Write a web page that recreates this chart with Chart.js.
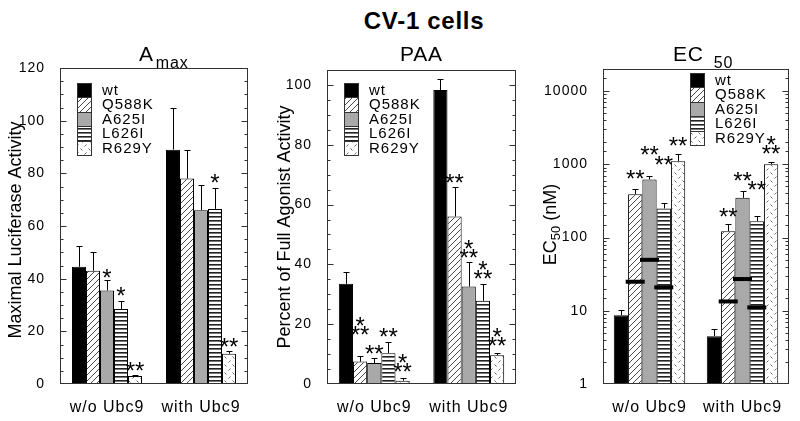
<!DOCTYPE html>
<html>
<head>
<meta charset="utf-8">
<script src="https://cdn.jsdelivr.net/npm/chart.js@4.4.0/dist/chart.umd.min.js"></script>
<style>
html,body{margin:0;padding:0;background:#fff;}
#wrap{position:relative;width:800px;height:421px;overflow:hidden;background:#fff;}
#title{position:absolute;left:324px;width:200px;top:7px;line-height:24px;text-align:center;font:bold 24px "Liberation Sans",Arial,sans-serif;letter-spacing:0.7px;color:#000;}
.pane{position:absolute;top:0;height:421px;}
canvas{display:block;}
</style>
</head>
<body>
<div id="wrap">
  <div id="title">CV-1 cells</div>
  <div class="pane" style="left:0;width:270px"><canvas id="c1" width="270" height="421"></canvas></div>
  <div class="pane" style="left:270px;width:260px"><canvas id="c2" width="260" height="421"></canvas></div>
  <div class="pane" style="left:530px;width:270px"><canvas id="c3" width="270" height="421"></canvas></div>
</div>
<script>
// ---------------- data ----------------
const categories = ['w/o Ubc9', 'with Ubc9'];
const seriesNames = ['wt', 'Q588K', 'A625I', 'L626I', 'R629Y'];

// A_max (Maximal Luciferase Activity): one [w/o, with] pair per series
const amaxMean   = [[44.5, 89], [43, 78], [35.5, 66], [28.5, 66.5], [3, 11.5]];
const amaxErrTop = [[52.5, 105], [50, 89], [39.5, 75.5], [31.5, 74.5], [3.6, 12.6]];
const amaxStars  = [['', ''], ['', ''], ['*', ''], ['*', '*'], ['**', '**']];
const amaxStarAt = [[0, 0], [0, 0], [42.5, 0], [35.7, 78.5], [7.2, 16.1]];
const amaxTicks  = [0, 20, 40, 60, 80, 100, 120];

// PAA (Percent of Full Agonist Activity)
const paaMean   = [[33.5, 98.3], [7.5, 56], [7, 32.6], [10.3, 27.8], [1.1, 9.6]];
const paaErrTop = [[37.4, 102], [9.5, 66], [8.8, 40.7], [14.2, 33.5], [2.1, 10.3]];
const paaStars  = [['', ''], ['*\n**', '**'], ['**', '*\n**'], ['**', '*\n**'], ['*\n**', '*\n**']];
const paaStarAt = [[0, 0], [18.3, 69], [12.0, 44.0], [17.5, 36.9], [5.8, 14.5]];
const paaTicks  = [0, 20, 40, 60, 80, 100];

// EC50 (nM), log scale
const ec50Mean   = [[8.7, 4.5], [391, 122], [621, 348], [250, 167], [1102, 1003]];
const ec50ErrTop = [[10.4, 5.6], [453, 151], [695, 430], [292, 198], [1374, 1080]];
const ec50Marker = [[null, null], [24.9, 13.4], [49.6, 27.1], [20.9, 11.1], [null, null]];
const ec50Stars  = [['', ''], ['**', '**'], ['**', '**'], ['**', '**'], ['**', '*\n**']];
const ec50StarAt = [[0, 0], [749, 231], [1592, 710], [1162, 535], [2133, 1641]];
const ec50Ticks  = [1, 10, 100, 1000, 10000];

// ---------------- rendering ----------------
const FONT = '"Liberation Sans", Arial, sans-serif';
Chart.defaults.font.family = FONT;
Chart.defaults.color = '#000';
Chart.defaults.animation = false;

function makePattern(kind) {
  const c = document.createElement('canvas');
  let g;
  if (kind === 'diag') {
    c.width = 6; c.height = 6; g = c.getContext('2d');
    g.fillStyle = '#fff'; g.fillRect(0, 0, 6, 6);
    g.strokeStyle = '#333'; g.lineWidth = 0.9;
    g.beginPath();
    g.moveTo(-1, 7); g.lineTo(7, -1);
    g.moveTo(-1, 1); g.lineTo(1, -1);
    g.moveTo(5, 7); g.lineTo(7, 5);
    g.stroke();
  } else if (kind === 'hstripe') {
    c.width = 4; c.height = 4; g = c.getContext('2d');
    g.fillStyle = '#fff'; g.fillRect(0, 0, 4, 4);
    g.fillStyle = '#222'; g.fillRect(0, 0, 4, 1.6);
  } else {
    c.width = 8; c.height = 8; g = c.getContext('2d');
    g.fillStyle = '#fff'; g.fillRect(0, 0, 8, 8);
    g.strokeStyle = '#666'; g.lineWidth = 1;
    g.beginPath();
    g.moveTo(0.5, 4.5); g.lineTo(2.5, 6.5);
    g.moveTo(4.5, 2.5); g.lineTo(6.5, 0.5);
    g.stroke();
  }
  return g.createPattern(c, 'repeat');
}

function line(ctx, x1, y1, x2, y2) {
  ctx.beginPath(); ctx.moveTo(x1, y1); ctx.lineTo(x2, y2); ctx.stroke();
}

function decorPlugin(p) {
  return {
    id: 'decor',
    beforeLayout(chart) { chart.ctx.letterSpacing = '1px'; },
    beforeDraw(chart) { chart.ctx.letterSpacing = '1px'; },
    afterDatasetsDraw(chart) {
      const ctx = chart.ctx, ca = chart.chartArea, ys = chart.scales.y;
      ctx.save();
      ctx.letterSpacing = '0px';
      ctx.strokeStyle = '#000'; ctx.lineWidth = 1;
      // error bars (upper whisker)
      chart.data.datasets.forEach((ds, i) => {
        chart.getDatasetMeta(i).data.forEach((bar, j) => {
          const top = p.errTop[i][j];
          if (top == null) return;
          const x = Math.round(bar.x) + 0.5;
          const y0 = ys.getPixelForValue(p.mean[i][j]);
          const y1 = Math.round(ys.getPixelForValue(top)) + 0.5;
          line(ctx, x, y0, x, y1);
          line(ctx, x - 3, y1, x + 3, y1);
        });
      });
      // reference markers
      if (p.marker) {
        ctx.fillStyle = '#000';
        chart.data.datasets.forEach((ds, i) => {
          chart.getDatasetMeta(i).data.forEach((bar, j) => {
            const v = p.marker[i][j];
            if (v == null) return;
            const py = ys.getPixelForValue(v);
            ctx.fillRect(bar.x - 9.5, py - 2, 19, 4);
          });
        });
      }
      // frame and inward ticks on both sides
      ctx.strokeStyle = '#333'; ctx.lineWidth = 1;
      const L = Math.round(ca.left) + 0.5, R = Math.round(ca.right) - 0.5;
      const T = Math.round(ca.top) + 0.5, B = Math.round(ca.bottom) - 0.5;
      ctx.strokeRect(L, T, R - L, B - T);
      ys.ticks.forEach(t => {
        const py = Math.round(ys.getPixelForValue(t.value)) + 0.5;
        if (py < T - 0.1 || py > B + 0.1) return;
        const len = p.majorTicks.includes(t.value) ? 6 : 3;
        line(ctx, L, py, L + len, py);
        line(ctx, R - len, py, R, py);
      });
      // significance stars
      ctx.font = '24px ' + FONT; ctx.textAlign = 'center'; ctx.textBaseline = 'alphabetic'; ctx.fillStyle = '#000';
      chart.data.datasets.forEach((ds, i) => {
        chart.getDatasetMeta(i).data.forEach((bar, j) => {
          const lab = p.stars[i][j];
          if (!lab) return;
          const rows = lab.split('\n').reverse();
          const cy = ys.getPixelForValue(p.starAt[i][j]);
          rows.forEach((r, k) => ctx.fillText(r, bar.x, cy - k * 9.5 + 13.8));
        });
      });
      ctx.restore();
    },
    afterDraw(chart) {
      const ctx = chart.ctx, ca = chart.chartArea;
      ctx.save();
      // legend inside plot
      ctx.letterSpacing = '1px';
      const lx = Math.round(ca.left + p.legendOffset[0]);
      const ly = ca.top + p.legendOffset[1];
      chart.data.datasets.forEach((ds, i) => {
        const y = Math.round(ly + i * 14.4);
        const h = Math.round(ly + (i + 1) * 14.4) - y;
        ctx.fillStyle = ds.backgroundColor;
        ctx.fillRect(lx, y, 15, h);
        ctx.strokeStyle = '#333'; ctx.lineWidth = 1;
        ctx.strokeRect(lx + 0.5, y + 0.5, 14, h);
        ctx.fillStyle = '#000'; ctx.font = '15px ' + FONT;
        ctx.textAlign = 'left'; ctx.textBaseline = 'middle';
        ctx.fillText(ds.label, lx + 25, y + h / 2 + 0.5);
      });
      // panel title with optional subscript
      ctx.letterSpacing = '0.8px';
      ctx.fillStyle = '#000'; ctx.textBaseline = 'alphabetic'; ctx.textAlign = 'left';
      ctx.font = '21px ' + FONT;
      const mw = ctx.measureText(p.title).width;
      let tx;
      if (p.titleLeft != null) tx = ca.left + p.titleLeft;
      else tx = (ca.left + ca.right) / 2 - mw / 2;
      ctx.fillText(p.title, tx, 61);
      if (p.titleSub) {
        ctx.font = '16px ' + FONT;
        ctx.fillText(p.titleSub, tx + mw + p.subGap, 68);
      }
      // y-axis title (rotated)
      ctx.letterSpacing = '0px';
      ctx.translate(p.yTitleX, (ca.top + ca.bottom) / 2 + p.yTitleShift);
      ctx.rotate(-Math.PI / 2);
      ctx.textBaseline = 'middle';
      const parts = p.yTitle; // [text, isSub]
      let total = 0;
      parts.forEach(pt => { ctx.font = (pt[1] ? '13px ' : '18px ') + FONT; total += ctx.measureText(pt[0]).width; });
      let x = -total / 2;
      parts.forEach(pt => {
        ctx.font = (pt[1] ? '13px ' : '18px ') + FONT;
        ctx.fillText(pt[0], x, pt[1] ? 5 : 0);
        x += ctx.measureText(pt[0]).width;
      });
      ctx.restore();
    }
  };
}

function buildPanel(id, p) {
  const fills = ['#000000', makePattern('diag'), '#a9a9a9', makePattern('hstripe'), makePattern('dash')];
  const datasets = seriesNames.map((name, i) => ({
    label: name,
    data: p.mean[i],
    backgroundColor: fills[i],
    borderColor: '#000',
    borderWidth: 1,
    barPercentage: 1,
    categoryPercentage: p.catPct
  }));
  const yOpts = Object.assign({
    grid: { display: false },
    border: { display: false },
    ticks: {
      autoSkip: false,
      padding: 7,
      color: '#000',
      font: { size: 14 },
      callback: (v) => p.majorTicks.includes(v) ? String(v) : ''
    },
    afterFit(s) { s.width = p.axisWidth; }
  }, p.yScale);
  yOpts.ticks = Object.assign(yOpts.ticks, p.yTicksExtra || {});
  return new Chart(document.getElementById(id), {
    type: 'bar',
    data: { labels: categories, datasets },
    options: {
      responsive: false,
      animation: false,
      layout: { padding: { top: p.padTop, right: p.padRight, left: 0, bottom: 0 } },
      plugins: { legend: { display: false }, tooltip: { enabled: false }, title: { display: false } },
      scales: {
        x: {
          grid: { display: false },
          border: { display: false },
          ticks: { padding: 6, color: '#000', font: { size: 16 }, maxRotation: 0 },
          afterFit(s) { s.height = 37; }
        },
        y: yOpts
      }
    },
    plugins: [decorPlugin(p)]
  });
}

buildPanel('c1', {
  mean: amaxMean, errTop: amaxErrTop, stars: amaxStars, starAt: amaxStarAt,
  majorTicks: amaxTicks, catPct: 0.745, axisWidth: 60, padTop: 68, padRight: 22,
  yScale: { type: 'linear', min: 0, max: 120 }, yTicksExtra: { stepSize: 5, maxTicksLimit: 100 },
  legendOffset: [17, 15], title: 'A', titleSub: 'max', titleLeft: 79, subGap: 2,
  yTitleX: 16, yTitleShift: 4, yTitle: [['Maximal Luciferase Activity', false]]
});

buildPanel('c2', {
  mean: paaMean, errTop: paaErrTop, stars: paaStars, starAt: paaStarAt,
  majorTicks: paaTicks, catPct: 0.75, axisWidth: 57, padTop: 70, padRight: 14,
  yScale: { type: 'linear', min: 0, max: 105 }, yTicksExtra: { stepSize: 5, maxTicksLimit: 100 },
  legendOffset: [17, 13], title: 'PAA', titleSub: '', titleLeft: null, subGap: 0,
  yTitleX: 15, yTitleShift: 0, yTitle: [['Percent of Full Agonist Activity', false]]
});

buildPanel('c3', {
  mean: ec50Mean, errTop: ec50ErrTop, marker: ec50Marker, stars: ec50Stars, starAt: ec50StarAt,
  majorTicks: ec50Ticks, catPct: 0.768, axisWidth: 73, padTop: 69, padRight: 11,
  yScale: { type: 'logarithmic', min: 1, max: 20000 }, yTicksExtra: {},
  legendOffset: [87, 4], title: 'EC', titleSub: '50', titleLeft: 70, subGap: 10,
  yTitleX: 21, yTitleShift: -2, yTitle: [['EC', false], ['50', true], [' (nM)', false]]
});
</script>
</body>
</html>
